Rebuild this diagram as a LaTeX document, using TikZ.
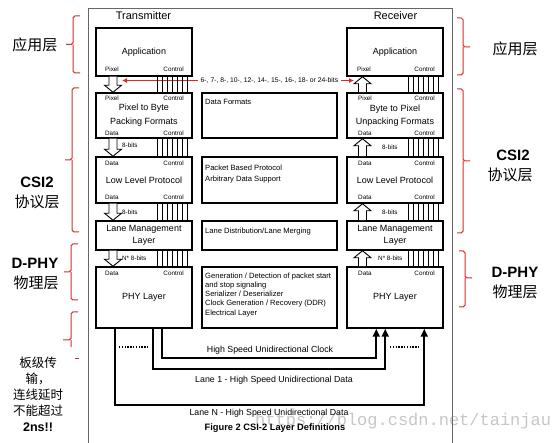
\documentclass[tikz,border=0pt]{standalone}
\usepackage{fontspec}
\setmainfont{Liberation Sans}
\newfontfamily\cjk{Noto Sans CJK SC}
\newfontfamily\wmfont{Liberation Mono}
\usetikzlibrary{arrows.meta,calc}
\newcommand\fsz[2]{\fontsize{#1}{#2}\selectfont}
\definecolor{myred}{RGB}{222,40,40}
\definecolor{brred}{RGB}{215,45,45}
\tikzset{
  box/.style={draw, line width=1.5pt, minimum width=96pt, inner sep=0pt, align=center, font=\fsz{9}{11}},
  tbox/.style={draw, line width=1.2pt, minimum width=135pt, inner sep=0pt},
  ttext/.style={anchor=north west, inner sep=0pt, align=left, font=\fsz{7.6}{9.3}},
  lbl/.style={inner sep=0pt, font=\fsz{6.3}{7}},
  bitl/.style={inner sep=0pt, font=\fsz{6.3}{7}, anchor=west},
  ttl/.style={inner sep=0pt, font=\fsz{11}{12}},
  bitsl/.style={inner sep=2.5pt, font=\fsz{6.8}{8}},
  redarr/.style={draw=myred, line width=1.1pt, -{Latex[length=5pt,width=5pt]}},
  ctl/.style={draw, line width=0.8pt},
  hollow/.style={draw, line width=0.9pt, fill=white, line join=miter},
  bus/.style={draw, line width=2.3pt, -{Triangle[length=8pt,width=7pt]}},
  dots/.style={draw, line width=1.3pt, dash pattern=on 1.4pt off 1.4pt},
  busl/.style={inner sep=0pt, font=\fsz{8.8}{10}},
  capt/.style={inner sep=0pt, font=\bfseries\fsz{9.3}{11}},
  frame/.style={draw=black!60, line width=0.9pt},
  brc/.style={draw=brred, line width=1pt, rounded corners=1.8pt},
  cjkbig/.style={inner sep=0pt, font=\cjk\fsz{15}{16}},
  bigb/.style={inner sep=0pt, font=\bfseries\fsz{15}{16}},
  cjknote/.style={inner sep=0pt, font=\cjk\fsz{12.5}{16}},
  wm/.style={inner sep=0pt, text=black!22, font=\wmfont\fsz{17}{18}}
}
\newcommand\hollowdown[3]{\draw[hollow] let \p1=(#2.south), \p2=(#3.north) in
  (#1-4,\y1) -- (#1-4,\y2+7pt) -- (#1-8.5,\y2+7pt) -- (#1,\y2) -- (#1+8.5,\y2+7pt) -- (#1+4,\y2+7pt) -- (#1+4,\y1);}
\newcommand\hollowup[3]{\draw[hollow] let \p1=(#2.north), \p2=(#3.south) in
  (#1-4,\y1) -- (#1-4,\y2-7pt) -- (#1-8.5,\y2-7pt) -- (#1,\y2) -- (#1+8.5,\y2-7pt) -- (#1+4,\y2-7pt) -- (#1+4,\y1);}
\newcommand\ctrlbus[3]{\foreach \k in {0,...,6}{\draw[ctl] let \p1=(#2.south), \p2=(#3.north) in (#1+5*\k,\y1) -- (#1+5*\k,\y2);}}
\newcommand\braceLft[4]{\draw[brc] (#1+7,#2) -- (#1,#2) -- (#1,#3) -- (#1-7,#3) (#1,#3) -- (#1,#4) -- (#1+7,#4);}
\newcommand\braceRgt[4]{\draw[brc] (#1-6,#2) -- (#1,#2) -- (#1,#3) -- (#1+7,#3) (#1,#3) -- (#1,#4) -- (#1-6,#4);}

\begin{document}
\begin{tikzpicture}[x=1pt,y=-1pt]
\useasboundingbox (0,0) rectangle (560,443);
\fill[white] (0,0) rectangle (560,443);

% watermark
\node[wm, anchor=west] (wmk) at (255,421) {https://blog.csdn.net/tainjau};

% frame
\draw[frame] (88,443) -- (88,8) -- (452,8) -- (452,443);

\node[ttl] (tT) at (143.5,16) {Transmitter};
\node[ttl] (tR) at (395.5,16) {Receiver};

% red bit-width arrow
\node[bitsl] (bits) at (269.5,80.5) {6-, 7-, 8-, 10-, 12-, 14-, 15-, 16-, 18- or 24-bits};
\coordinate (redL) at (122,80.5);
\coordinate (redR) at (354,80.5);
\draw[redarr] (bits.west) -- (redL);
\draw[redarr] (bits.east) -- (redR);

% transmitter boxes
\node[box, minimum height=48] (appT) at (144,52) {Application};
\node[box, minimum height=45, font=\fsz{9}{14}] (packT) at (144,115.5) {Pixel to Byte\\Packing Formats};
\node[box, minimum height=46] (llpT) at (144,180) {Low Level Protocol};
\node[box, minimum height=29, font=\fsz{9}{12}] (lmlT) at (144,235.5) {Lane Management\\Layer};
\node[box, minimum height=61] (phyT) at (144,297.5) {PHY Layer};

% receiver boxes
\node[box, minimum height=48] (appR) at (395,52) {Application};
\node[box, minimum height=45, font=\fsz{9}{13}] (packR) at (395,115.5) {Byte to Pixel\\Unpacking Formats};
\node[box, minimum height=46] (llpR) at (395,180) {Low Level Protocol};
\node[box, minimum height=29, font=\fsz{9}{12}] (lmlR) at (395,235.5) {Lane Management\\Layer};
\node[box, minimum height=61] (phyR) at (395,297.5) {PHY Layer};

% middle description boxes
\node[tbox, minimum height=45] (dfM) at (269.5,115.5) {};
\node[tbox, minimum height=46] (llpM) at (269.5,180) {};
\node[tbox, minimum height=29] (lmlM) at (269.5,235.5) {};
\node[tbox, minimum height=61] (phyM) at (269.5,297.5) {};
\node[ttext] (dfMt) at (205,99.3) {Data Formats};
\node[ttext, font=\fsz{7.6}{11}] (llpMt) at (205,164.3) {Packet Based Protocol\\Arbitrary Data Support};
\node[ttext] (lmlMt) at (205,227.3) {Lane Distribution/Lane Merging};
\node[ttext] (phyMt) at (205,272.3) {Generation / Detection of packet start\\and stop signaling\\Serializer / Deserializer\\Clock Generation / Recovery (DDR)\\Electrical Layer};

% port labels transmitter
\node[lbl, anchor=west] (aTp) at (105,69.5) {Pixel};
\node[lbl, anchor=east] (aTc) at (184,69.5) {Control};
\node[lbl, anchor=west] (pTp) at (105,98) {Pixel};
\node[lbl, anchor=east] (pTc) at (184,98) {Control};
\node[lbl, anchor=west] (pTd) at (105,133) {Data};
\node[lbl, anchor=east] (pTc2) at (184,133) {Control};
\node[lbl, anchor=west] (lTd) at (105,163) {Data};
\node[lbl, anchor=east] (lTc) at (184,163) {Control};
\node[lbl, anchor=west] (lTd2) at (105,197.5) {Data};
\node[lbl, anchor=east] (lTc2) at (184,197.5) {Control};
\node[lbl, anchor=west] (hTd) at (105,273) {Data};
\node[lbl, anchor=east] (hTc) at (184,273) {Control};

% port labels receiver
\node[lbl, anchor=west] (aRp) at (357,69.5) {Pixel};
\node[lbl, anchor=east] (aRc) at (435,69.5) {Control};
\node[lbl, anchor=west] (pRp) at (358,98) {Pixel};
\node[lbl, anchor=east] (pRc) at (435,98) {Control};
\node[lbl, anchor=west] (pRd) at (358,133) {Data};
\node[lbl, anchor=east] (pRc2) at (435,133) {Control};
\node[lbl, anchor=west] (lRd) at (358,163) {Data};
\node[lbl, anchor=east] (lRc) at (435,163) {Control};
\node[lbl, anchor=west] (lRd2) at (358,197.5) {Data};
\node[lbl, anchor=east] (lRc2) at (435,197.5) {Control};
\node[lbl, anchor=west] (hRd) at (358,273) {Data};
\node[lbl, anchor=east] (hRc) at (435,273) {Control};

% control buses
\ctrlbus{157}{appT}{packT}
\ctrlbus{157}{packT}{llpT}
\ctrlbus{157}{llpT}{lmlT}
\ctrlbus{157}{lmlT}{phyT}
\ctrlbus{408}{appR}{packR}
\ctrlbus{408}{packR}{llpR}
\ctrlbus{408}{llpR}{lmlR}
\ctrlbus{408}{lmlR}{phyR}

% hollow data arrows
\hollowdown{113}{appT}{packT}
\hollowdown{113}{packT}{llpT}
\hollowdown{113}{llpT}{lmlT}
\hollowdown{113}{lmlT}{phyT}
\hollowup{362.5}{packR}{appR}
\hollowup{362.5}{llpR}{packR}
\hollowup{362.5}{lmlR}{llpR}
\hollowup{362.5}{phyR}{lmlR}

% width labels
\node[bitl] (b1T) at (122,145) {8-bits};
\node[bitl] (b2T) at (122,212) {8-bits};
\node[bitl] (b3T) at (122,258) {N* 8-bits};
\node[bitl] (b1R) at (382,147) {8-bits};
\node[bitl] (b2R) at (382,212) {8-bits};
\node[bitl] (b3R) at (378,258) {N* 8-bits};

% high speed lanes
\draw[bus] ($(phyT.south west)+(67,0)$) -- ++(0,29.5) -| ($(phyR.south west)+(30,0)$);
\draw[bus] ($(phyT.south west)+(58,0)$) -- ++(0,40.5) -| ($(phyR.south west)+(39,0)$);
\draw[bus] ($(phyT.south west)+(20,0)$) -- ++(0,76) -| ($(phyR.south west)+(78,0)$);
\draw[dots] (119,347) -- (149,347);
\draw[dots] (390,347) -- (419,347);

\node[busl] (lclk) at (270,350) {High Speed Unidirectional Clock};
\node[busl] (lone) at (274,380) {Lane 1 - High Speed Unidirectional Data};
\node[busl] (lenn) at (269,413) {Lane N - High Speed Unidirectional Data};
\node[capt] (cap) at (275,428) {Figure 2 CSI-2 Layer Definitions};

% red braces
\braceLft{73}{16}{44.5}{73}
\braceLft{72}{88}{160}{232}
\braceLft{71}{244}{272}{300}
\draw[brc] (78,312) -- (71,312) -- (71,340) -- (63,340) (71,340) -- (71,347);
\draw[brc] (75,359) -- (78.5,359);
\braceRgt{463}{18}{47}{75}
\braceRgt{463}{89}{161}{233}
\braceRgt{465}{251}{278}{307}

% side texts
\node[cjkbig] (appLt) at (35,45) {应用层};
\node[cjkbig] (appRt) at (515,49) {应用层};
\node[bigb] (csiL) at (37,182) {CSI2};
\node[cjkbig] (csiL2) at (37,202) {协议层};
\node[bigb] (csiR) at (513,155) {CSI2};
\node[cjkbig] (csiR2) at (510,175) {协议层};
\node[bigb] (dphyL) at (35,263) {D-PHY};
\node[cjkbig] (dphyL2) at (36,283) {物理层};
\node[bigb] (dphyR) at (515,272) {D-PHY};
\node[cjkbig] (dphyR2) at (515,292) {物理层};
\node[cjknote, align=center] (note) at (38,394) {板级传\\输，\\连线延时\\不能超过\\{\normalfont\bfseries\fsz{12.5}{16}2ns!!}};
\end{tikzpicture}
\end{document}
